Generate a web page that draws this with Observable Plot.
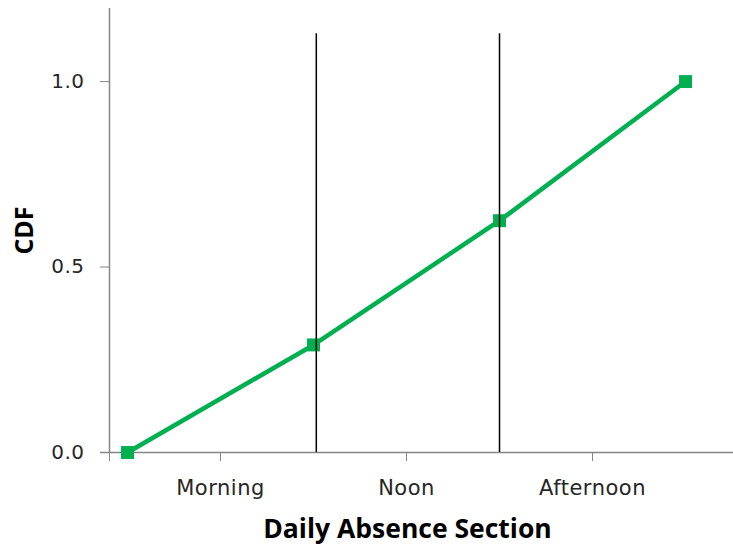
<!DOCTYPE html>
<html>
<head>
<meta charset="utf-8">
<script src="https://cdn.jsdelivr.net/npm/d3@7"></script>
<script src="https://cdn.jsdelivr.net/npm/@observablehq/plot@0.6"></script>
<style>
  html, body { margin: 0; padding: 0; background: #fff; }
  svg text { letter-spacing: 0.5px; }
  svg g[aria-label="text"] text { letter-spacing: 0; }
</style>
</head>
<body>
<div id="chart"></div>
<script>
// Data
const categories = ["Morning", "Noon", "Afternoon"];
const categoryCenters = [0.5, 1.5, 2.5];
const xPos = [0, 1, 2, 3];
const cdf = [0, 0.29, 0.625, 1.0];
const boundaries = [1.015, 2];
const yTicks = [0, 0.5, 1.0];

const xStart = -0.0968;
const xEnd = 3.258;
const points = xPos.map((x, i) => ({x, y: cdf[i]}));

const gray = "#868686";
const green = "#00B050";
const textColor = "#262626";

const chart = Plot.plot({
  width: 733,
  height: 550,
  marginLeft: 109,
  marginRight: 0,
  marginTop: 8,
  marginBottom: 98,
  style: {fontFamily: "DejaVu Sans", fontSize: "21px", background: "#fff"},
  x: {domain: [xStart, xEnd]},
  y: {domain: [0, 1.197]},
  marks: [
    Plot.ruleY([0], {x1: -0.145, x2: xEnd, stroke: gray, strokeWidth: 1.5}),
    Plot.ruleX([xStart], {y1: 0, y2: 1.197, stroke: gray, strokeWidth: 1.5}),
    Plot.axisX({
      ticks: [xStart, ...categoryCenters],
      tickFormat: d => { const i = categoryCenters.indexOf(d); return i >= 0 ? categories[i] : ""; },
      tickSize: 9, tickPadding: 19, stroke: gray, fill: textColor, label: null, fontSize: 21
    }),
    Plot.axisY({
      ticks: yTicks,
      tickFormat: d3.format(".1f"),
      tickSize: 9, tickPadding: 16, stroke: gray, fill: textColor, label: null, fontSize: 20
    }),
    Plot.line(points, {x: "x", y: "y", stroke: green, strokeWidth: 4.5}),
    Plot.dot(points, {x: "x", y: "y", symbol: "square", r: 7.3, fill: green}),
    Plot.ruleX(boundaries, {y1: 0, y2: 1.129, stroke: "#000", strokeWidth: 1.5}),
    Plot.text(["CDF"], {text: d => d, frameAnchor: "left", textAnchor: "middle", dx: -85, rotate: -90,
      fontSize: 25, fontWeight: "bold", fontFamily: "Open Sans", fill: "#000"}),
    Plot.text(["Daily Absence Section"], {text: d => d, frameAnchor: "bottom", dx: -14, dy: 85,
      fontSize: 26.5, fontWeight: "bold", fontFamily: "Open Sans", fill: "#000"})
  ]
});
document.getElementById("chart").appendChild(chart);
</script>
</body>
</html>
